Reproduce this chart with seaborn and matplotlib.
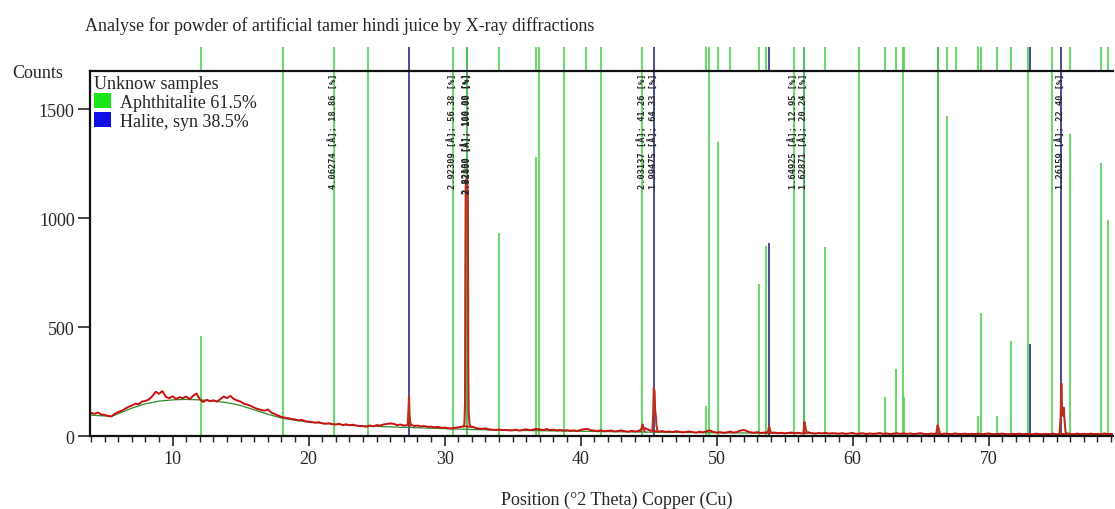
import numpy as np
import pandas as pd
import matplotlib
matplotlib.use('Agg')
import matplotlib.pyplot as plt
from matplotlib.patches import Patch
from matplotlib.ticker import MultipleLocator
import seaborn as sns

# measured scan, counts from 4.00 deg 2theta in 0.25 deg steps
scan_start = 4.0
scan_step = 0.25
scan_counts = [
    108, 104, 110, 101, 99, 94, 92, 104, 112, 118, 127, 136, 142, 150, 148, 160, 163, 170, 184, 205,
    196, 208, 181, 176, 184, 172, 180, 176, 183, 171, 186, 197, 170, 158, 168, 162, 166, 160, 171, 183,
    176, 186, 172, 165, 160, 150, 146, 140, 132, 126, 122, 118, 124, 110, 103, 96, 90, 86, 84, 80,
    78, 74, 76, 70, 68, 66, 63, 66, 60, 58, 61, 56, 55, 58, 52, 56, 51, 54, 50, 48,
    47, 45, 50, 46, 52, 50, 55, 57, 60, 58, 52, 55, 50, 52, 55, 48, 50, 46, 48, 44,
    45, 42, 44, 40, 41, 38, 37, 40, 42, 45, 47, 45, 45, 40, 36, 35, 37, 33, 31, 30,
    32, 29, 30, 28, 28, 31, 27, 30, 33, 29, 31, 35, 32, 30, 34, 29, 31, 28, 30, 27,
    29, 26, 28, 25, 30, 33, 35, 29, 27, 25, 28, 24, 26, 27, 23, 25, 28, 24, 22, 26,
    23, 25, 34, 38, 30, 26, 24, 22, 25, 21, 23, 20, 24, 22, 19, 21, 23, 20, 18, 22,
    19, 24, 28, 21, 18, 20, 17, 19, 22, 18, 21, 27, 30, 24, 19, 17, 20, 16, 18, 19,
    16, 18, 15, 17, 14, 16, 18, 15, 17, 14, 16, 19, 15, 13, 16, 14, 17, 13, 15, 14,
    13, 15, 12, 14, 16, 12, 13, 15, 11, 14, 12, 13, 16, 12, 14, 11, 13, 15, 12, 14,
    12, 14, 11, 13, 15, 12, 10, 13, 12, 14, 11, 13, 12, 10, 14, 12, 11, 13, 10, 12,
    11, 13, 10, 12, 14, 11, 10, 12, 13, 11, 10, 12, 11, 13, 10, 12, 11, 10, 13, 11,
    10, 12, 11, 13, 10, 12, 11, 14, 12, 10, 13, 11, 12, 10, 13, 11, 12, 10, 14, 11,
    12, 11,
]

# sharp reflections read point by point
peak_id = [1] * 6 + [2] * 12 + [3] * 5 + [4] * 8 + [5] * 4 + [6] * 5 + [7] * 4 + [8] * 9
peak_theta = [
    27.28, 27.34, 27.38, 27.42, 27.46, 27.52,
    31.40, 31.46, 31.50, 31.52, 31.55, 31.60, 31.66, 31.71, 31.74, 31.77, 31.83, 31.92,
    44.40, 44.50, 44.56, 44.63, 44.72,
    45.28, 45.34, 45.38, 45.44, 45.48, 45.53, 45.58, 45.66,
    53.78, 53.86, 53.92, 54.00,
    56.38, 56.46, 56.52, 56.60, 56.68,
    66.16, 66.25, 66.32, 66.42,
    75.22, 75.30, 75.35, 75.41, 75.47, 75.53, 75.58, 75.66, 75.75,
]
peak_counts = [
    52, 120, 182, 100, 70, 50,
    45, 62, 150, 700, 1150, 1180, 1170, 1100, 320, 110, 58, 42,
    24, 42, 55, 38, 23,
    23, 110, 223, 205, 120, 95, 50, 24,
    18, 48, 32, 17,
    15, 66, 45, 22, 15,
    12, 52, 40, 14,
    14, 90, 243, 110, 95, 132, 80, 22, 12,
]

# fitted background
bg_theta = [4, 5.5, 7, 8, 9, 10, 11, 12, 13, 14, 15, 16, 17, 18, 19, 20, 22, 24, 26, 28,
            30, 32, 35, 40, 45, 50, 55, 60, 65, 70, 75, 79.5]
bg_counts = [98, 92, 130, 150, 162, 168, 170, 168, 163, 155, 142, 122, 102, 85, 74, 66, 56, 48, 44, 40,
             36, 32, 28, 24, 20, 17, 15, 13, 12, 11, 10, 10]

# reference patterns (1700 = off scale)
aph_pos = [12.06, 18.13, 21.83, 24.38, 30.58, 31.62, 34.00, 36.71, 36.96, 38.80, 40.37, 41.50, 44.55,
           49.21, 49.43, 50.07, 50.98, 53.11, 53.62, 55.71, 56.44, 57.96, 60.46, 62.38, 63.18, 63.68,
           63.80, 66.25, 66.96, 67.60, 69.19, 69.44, 70.59, 71.64, 72.92, 74.63, 75.98, 78.26, 78.75]
aph_height = [463, 1700, 1700, 1700, 1700, 1700, 934, 1280, 1700, 1700, 0, 1700, 1700,
              142, 1700, 1349, 0, 700, 873, 1700, 1700, 868, 1700, 180, 310, 1700,
              180, 1700, 1469, 0, 93, 567, 93, 437, 1700, 1700, 1385, 1255, 995]
hal_pos = [27.38, 31.64, 45.39, 53.87, 56.44, 66.25, 73.07, 75.32]
hal_height = [1700, 1700, 1700, 888, 1700, 1700, 425, 1700]

label_pos = [21.83, 30.58, 31.60, 31.68, 44.55, 45.39, 55.71, 56.44, 75.32]
label_text = ['4.06274 [Å]; 18.86 [%]', '2.92309 [Å]; 56.38 [%]', '2.82100 [Å]; 100.00 [%]',
              '2.82060 [Å]; 100.00 [%]', '2.03137 [Å]; 41.26 [%]', '1.99475 [Å]; 64.33 [%]',
              '1.64925 [Å]; 12.95 [%]', '1.62871 [Å]; 20.24 [%]', '1.26159 [Å]; 22.40 [%]']

phases = ['Aphthitalite 61.5%', 'Halite, syn 38.5%']

y_top = 1675
marker_top = 1787
green = '#55d055'
blue = '#3c3c96'

sns.set_style('ticks')
plt.rcParams['font.family'] = ['Liberation Serif', 'DejaVu Serif']

scan = pd.DataFrame({'theta': scan_start + scan_step * np.arange(len(scan_counts)),
                     'counts': scan_counts})
peaks = pd.DataFrame({'peak': peak_id, 'theta': peak_theta, 'counts': peak_counts})
bg = pd.DataFrame({'theta': bg_theta, 'counts': bg_counts})

fig = plt.figure(figsize=(11.15, 5.1), dpi=100)
ax = fig.add_axes([0.0807, 0.1422, 0.9175, 0.7161])

# sticks inside the plot and the marks above it
ax.vlines(hal_pos, 0, hal_height, color=blue, lw=1.3, zorder=1)
ax.vlines(aph_pos, 0, aph_height, color=green, lw=1.5, alpha=0.85, zorder=1.5)
ax.vlines(hal_pos, y_top, marker_top, color=blue, lw=1.3, clip_on=False, zorder=1)
ax.vlines(aph_pos, y_top, marker_top, color=green, lw=1.5, alpha=0.85, clip_on=False, zorder=1.5)

sns.lineplot(data=bg, x='theta', y='counts', color='#2e8b2e', lw=0.9, ax=ax, zorder=2)
sns.lineplot(data=scan, x='theta', y='counts', color='#c81010', lw=1.4, ax=ax, zorder=3)
sns.lineplot(data=peaks, x='theta', y='counts', units='peak', estimator=None,
             color='#b8301a', lw=1.5, ax=ax, zorder=3)

for pos, txt in zip(label_pos, label_text):
    ax.text(pos, y_top - 4, txt, rotation=90, ha='center', va='top', fontsize=6.2,
            family='DejaVu Sans Mono', fontweight='bold', color='#2a2a2a', zorder=4)

ax.set_xlim(3.92, 79.15)
ax.set_ylim(0, y_top)
ax.xaxis.set_major_locator(MultipleLocator(10))
ax.xaxis.set_minor_locator(MultipleLocator(1))
ax.set_yticks([0, 500, 1000, 1500])
ax.set_xlabel('')
ax.set_ylabel('')
ax.tick_params(axis='x', which='major', direction='out', length=7, width=1.2, labelsize=13, pad=3)
ax.tick_params(axis='x', which='minor', direction='out', length=4, width=1)
ax.tick_params(axis='y', direction='out', length=9, width=1.2, labelsize=13, pad=2)
ax.spines['right'].set_visible(False)
for side in ['left', 'bottom', 'top']:
    ax.spines[side].set_linewidth(1.6)
    ax.spines[side].set_color('#111111')
    ax.spines[side].set_zorder(6)

handles = [Patch(facecolor='#19e619', edgecolor='none'), Patch(facecolor='#1010e6', edgecolor='none')]
leg = ax.legend(handles, phases, title='Unknow samples', loc='upper left', fontsize=13,
                title_fontsize=13, handlelength=0.95, handleheight=0.95, handletextpad=0.5,
                labelspacing=0.05, borderpad=0.1, borderaxespad=0.1, alignment='left',
                frameon=True, fancybox=False, framealpha=1, facecolor='white', edgecolor='none')
leg.set_zorder(7)

fig.text(85 / 1115, 0.948, 'Analyse for powder of artificial tamer hindi juice by X-ray diffractions',
         fontsize=13, ha='left', va='center')
fig.text(12 / 1115, 1 - 74 / 510, 'Counts', fontsize=13, ha='left', va='center')
fig.text(617 / 1115, 1 - 500 / 510, 'Position (°2 Theta) Copper (Cu)', fontsize=13,
         ha='center', va='center')

fig.savefig('out.png', dpi=100)
